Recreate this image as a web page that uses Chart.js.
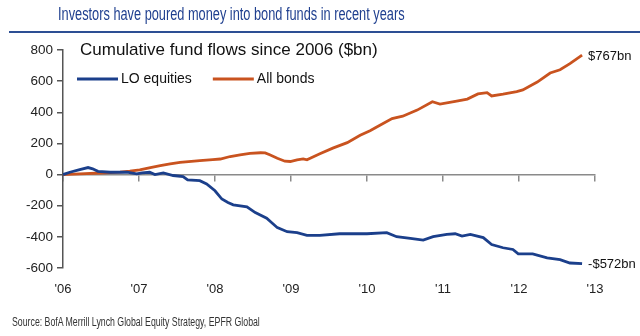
<!DOCTYPE html>
<html>
<head>
<meta charset="utf-8">
<script src="https://cdn.jsdelivr.net/npm/chart.js@4/dist/chart.umd.min.js"></script>
<style>
  html, body { margin: 0; padding: 0; background: #fff; }
  #wrap { position: relative; width: 640px; height: 336px; overflow: hidden; }
  #head {
    position: absolute; left: 58px; top: 4px; white-space: nowrap;
    font-family: "Liberation Sans", Arial, sans-serif;
    font-size: 17.5px; color: #1f3f8f;
    transform: scaleX(0.73); transform-origin: 0 0;
  }
  #rule { position: absolute; left: 9px; right: 0; top: 31px; height: 2px; background: #2d4f94; }
  #src {
    position: absolute; left: 12px; top: 315px; white-space: nowrap;
    font-family: "Liberation Sans", Arial, sans-serif;
    font-size: 12px; color: #333;
    transform: scaleX(0.73); transform-origin: 0 0;
  }
  canvas { position: absolute; left: 0; top: 0; }
</style>
</head>
<body>
<div id="wrap">
  <canvas id="c" width="640" height="336"></canvas>
  <div id="head">Investors have poured money into bond funds in recent years</div>
  <div id="rule"></div>
  <div id="src">Source: BofA Merrill Lynch Global Equity Strategy, EPFR Global</div>
</div>
<script>
// Year axis
const tickYears = [2006, 2007, 2008, 2009, 2010, 2011, 2012, 2013];
const tickLabels = ["'06", "'07", "'08", "'09", "'10", "'11", "'12", "'13"];

// Cumulative flows into long-only equity funds ($bn)
const equityDates = [2006.00, 2006.09, 2006.22, 2006.33, 2006.39, 2006.46, 2006.62, 2006.84, 2006.97,
  2007.04, 2007.14, 2007.21, 2007.32, 2007.45, 2007.58, 2007.64, 2007.80, 2007.89, 2008.00,
  2008.09, 2008.17, 2008.24, 2008.42, 2008.53, 2008.68, 2008.82, 2008.95, 2009.08, 2009.21,
  2009.38, 2009.64, 2010.00, 2010.26, 2010.39, 2010.57, 2010.74, 2010.87, 2011.05, 2011.16,
  2011.25, 2011.36, 2011.53, 2011.64, 2011.79, 2011.92, 2011.99, 2012.18, 2012.37, 2012.54,
  2012.67, 2012.83];
const equityFlows = [0, 15, 32, 45, 37, 21, 15, 15, 4,
  11, 15, 0, 11, -6, -13, -34, -39, -60, -104,
  -157, -179, -194, -207, -244, -280, -341, -367, -373, -390,
  -390, -380, -380, -373, -399, -410, -421, -399, -384, -380,
  -395, -384, -405, -449, -470, -481, -509, -509, -535, -546,
  -568, -572];

// Cumulative flows into all bond funds ($bn)
const bondDates = [2006.00, 2006.22, 2006.50, 2006.75, 2006.88, 2007.01, 2007.15, 2007.28, 2007.41,
  2007.54, 2007.80, 2007.97, 2008.07, 2008.20, 2008.33, 2008.46, 2008.60, 2008.66, 2008.72,
  2008.82, 2008.92, 2008.99, 2009.08, 2009.16, 2009.21, 2009.38, 2009.55, 2009.74, 2009.91,
  2010.04, 2010.17, 2010.33, 2010.47, 2010.66, 2010.86, 2010.96, 2011.18, 2011.32, 2011.46,
  2011.58, 2011.64, 2011.79, 2011.97, 2012.05, 2012.24, 2012.41, 2012.54, 2012.67, 2012.83];
const bondFlows = [0, 4, 10, 16, 22, 30, 45, 57, 68,
  79, 90, 96, 100, 116, 127, 136, 140, 139, 127,
  105, 86, 84, 95, 101, 95, 134, 170, 205, 252,
  282, 317, 360, 375, 414, 468, 453, 472, 485, 518,
  526, 505, 516, 533, 544, 594, 652, 673, 712, 767];

const seriesNames = ['LO equities', 'All bonds'];
const seriesColors = ['#1b3f8b', '#c9531f'];

const toPoints = (xs, ys) => xs.map((x, i) => ({ x: x, y: ys[i] }));

const FONT = '"Liberation Sans", Arial, sans-serif';

// Subtitle, in-plot legend and end-of-line value labels
const annotations = {
  id: 'annotations',
  afterDraw(chart) {
    const ctx = chart.ctx;
    const area = chart.chartArea;
    ctx.save();
    ctx.textBaseline = 'middle';
    ctx.fillStyle = '#111';
    ctx.font = '17px ' + FONT;
    ctx.fillText('Cumulative fund flows since 2006 ($bn)', area.left + 17, area.top);

    // legend row
    let lx = area.left + 14;
    const ly = area.top + 29;
    ctx.font = '14px ' + FONT;
    chart.data.datasets.forEach(ds => {
      ctx.strokeStyle = ds.borderColor;
      ctx.lineWidth = 3;
      ctx.beginPath();
      ctx.moveTo(lx, ly);
      ctx.lineTo(lx + 41, ly);
      ctx.stroke();
      ctx.fillStyle = '#111';
      ctx.fillText(ds.label, lx + 44, ly);
      lx += 44 + ctx.measureText(ds.label).width + 21;
    });

    // value at the end of each line
    ctx.font = '13px ' + FONT;
    ctx.fillStyle = '#111';
    chart.data.datasets.forEach((ds, i) => {
      const meta = chart.getDatasetMeta(i);
      const last = meta.data[meta.data.length - 1];
      const v = ds.data[ds.data.length - 1].y;
      const txt = (v < 0 ? '-$' : '$') + Math.abs(v) + 'bn';
      ctx.fillText(txt, last.x + 6, last.y + 1);
    });
    ctx.restore();
  }
};

new Chart(document.getElementById('c'), {
  type: 'line',
  data: {
    datasets: [
      { label: seriesNames[0], data: toPoints(equityDates, equityFlows), borderColor: seriesColors[0],
        borderWidth: 2.8, pointRadius: 0, tension: 0, xAxisID: 'x', yAxisID: 'y' },
      { label: seriesNames[1], data: toPoints(bondDates, bondFlows), borderColor: seriesColors[1],
        borderWidth: 2.8, pointRadius: 0, tension: 0, xAxisID: 'x', yAxisID: 'y' }
    ]
  },
  options: {
    responsive: false,
    animation: false,
    events: [],
    layout: { padding: { top: 50, right: 45, bottom: 0, left: 0 } },
    plugins: { legend: { display: false }, tooltip: { enabled: false } },
    scales: {
      x: {
        type: 'linear', position: 'bottom', min: 2006, max: 2013,
        afterBuildTicks: s => { s.ticks = tickYears.map(v => ({ value: v })); },
        afterFit: s => { s.height = 68; },
        border: { display: false },
        grid: { display: false, drawTicks: false },
        ticks: {
          padding: 14, color: '#222', maxRotation: 0, autoSkip: false,
          font: { family: FONT, size: 13 },
          callback: v => tickLabels[tickYears.indexOf(v)]
        }
      },
      x0: {
        axis: 'x', type: 'linear', position: { y: 0 }, min: 2006, max: 2013,
        afterBuildTicks: s => { s.ticks = tickYears.map(v => ({ value: v })); },
        border: { display: true, color: '#8a8a8a', width: 1.5 },
        grid: { drawOnChartArea: false, drawTicks: true, tickLength: 6, color: '#8a8a8a', lineWidth: 1.5 },
        ticks: { display: false }
      },
      y: {
        type: 'linear', position: 'left', min: -600, max: 800,
        afterFit: s => { s.width = 63; },
        border: { display: true, color: '#555', width: 1.5 },
        grid: { drawOnChartArea: false, drawTicks: true, tickLength: 6, color: '#555', lineWidth: 1.5 },
        ticks: { stepSize: 200, padding: 4, color: '#222', font: { family: FONT, size: 13.5 } }
      }
    }
  },
  plugins: [annotations]
});
</script>
</body>
</html>
